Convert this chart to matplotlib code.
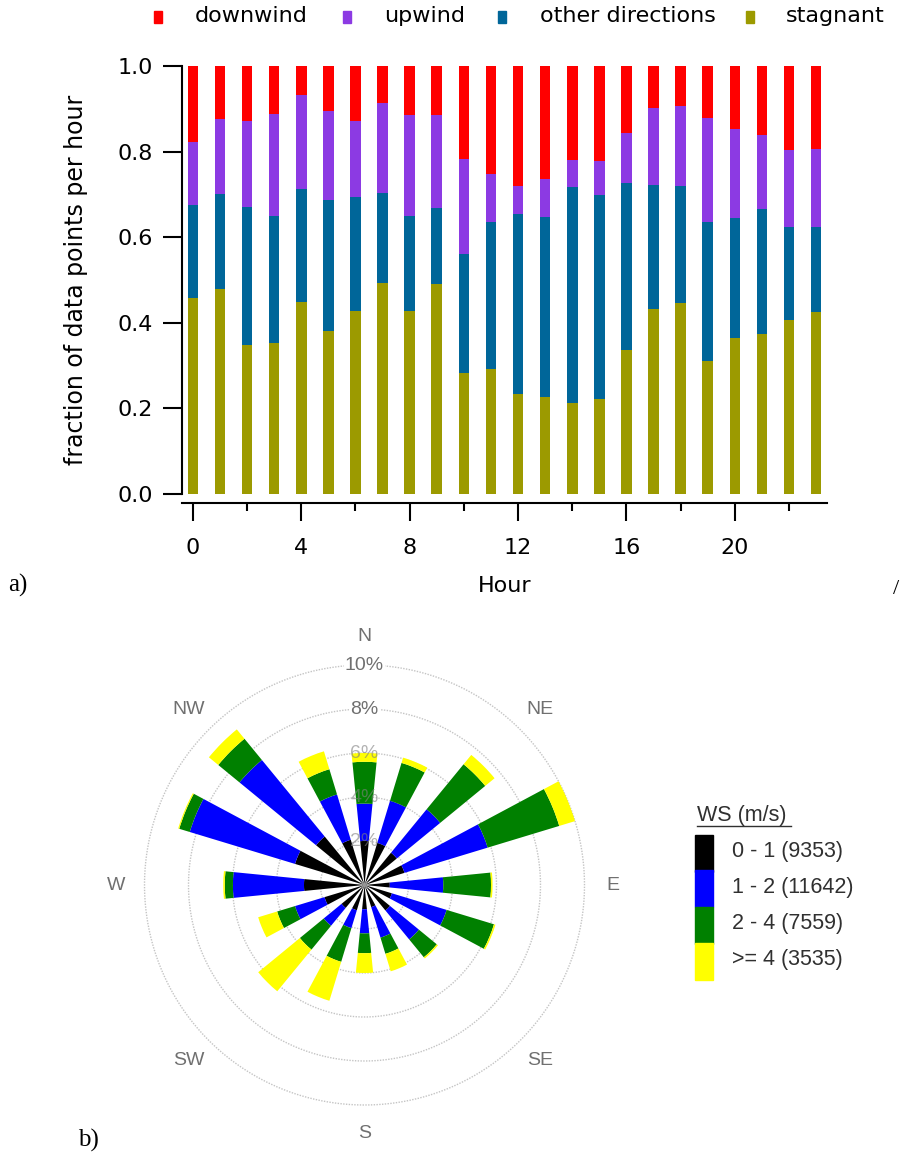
import numpy as np
import matplotlib
matplotlib.use('Agg')
import matplotlib.pyplot as plt
from matplotlib.patches import Rectangle
from matplotlib.lines import Line2D

# ---- panel a: fraction of data points per hour ----
hours = np.arange(24)
stagnant = [0.458, 0.479, 0.349, 0.353, 0.448, 0.380, 0.427, 0.493, 0.427, 0.490, 0.283, 0.292,
            0.234, 0.227, 0.213, 0.223, 0.336, 0.433, 0.447, 0.311, 0.365, 0.374, 0.406, 0.425]
other = [0.217, 0.221, 0.321, 0.296, 0.264, 0.308, 0.266, 0.211, 0.222, 0.178, 0.277, 0.344,
         0.420, 0.421, 0.504, 0.475, 0.390, 0.288, 0.272, 0.324, 0.279, 0.291, 0.217, 0.198]
upwind = [0.147, 0.177, 0.201, 0.238, 0.220, 0.206, 0.178, 0.209, 0.236, 0.217, 0.223, 0.112,
          0.065, 0.087, 0.063, 0.080, 0.117, 0.180, 0.188, 0.243, 0.208, 0.173, 0.181, 0.184]
downwind = [0.178, 0.123, 0.129, 0.113, 0.068, 0.106, 0.129, 0.087, 0.115, 0.115, 0.217, 0.252,
            0.281, 0.265, 0.220, 0.222, 0.157, 0.099, 0.093, 0.122, 0.148, 0.162, 0.196, 0.193]
cat_names = ['downwind', 'upwind', 'other directions', 'stagnant']
cat_colors = ['#ff0000', '#8c3ae3', '#006699', '#9c9a00']

# ---- panel b: wind rose (percent of data per direction and speed class) ----
directions = ['N', 'NNE', 'NE', 'ENE', 'E', 'ESE', 'SE', 'SSE',
              'S', 'SSW', 'SW', 'WSW', 'W', 'WNW', 'NW', 'NNW']
ws_0_1 = [2.0, 2.0, 1.9, 1.9, 1.15, 1.3, 1.5, 1.05, 1.1, 1.2, 1.35, 1.9, 2.75, 3.3, 2.85, 2.15]
ws_1_2 = [1.7, 2.0, 2.55, 3.95, 2.43, 2.6, 1.7, 1.45, 1.1, 0.85, 1.05, 1.4, 3.23, 5.0, 4.5, 2.15]
ws_2_4 = [1.9, 1.8, 2.65, 3.4, 2.17, 2.25, 1.05, 0.77, 0.9, 1.6, 1.4, 0.85, 0.37, 0.5, 1.25, 1.2]
ws_4 = [0.4, 0.25, 0.55, 0.8, 0.07, 0.07, 0.07, 0.83, 0.9, 1.85, 2.45, 0.9, 0.07, 0.05, 0.55, 0.85]
ws_labels = ['0 - 1 (9353)', '1 - 2 (11642)', '2 - 4 (7559)', '>= 4 (3535)']
ws_colors = ['#000000', '#0000ff', '#008000', '#ffff00']
ring_vals = [2, 4, 6, 8, 10]
compass = ['N', 'NE', 'E', 'SE', 'S', 'SW', 'W', 'NW']

W, H = 901, 1160
def fx(x):
    return x / W
def fy(y):
    return 1 - y / H

fig = plt.figure(figsize=(W / 100, H / 100), dpi=100)

# top chart
ax = fig.add_axes([fx(182), fy(494), (827 - 182) / W, (494 - 66) / H])
bottom = np.zeros(24)
for vals, col in zip([stagnant, other, upwind, downwind], cat_colors[::-1]):
    ax.bar(hours, vals, bottom=bottom, width=0.39, color=col, linewidth=0)
    bottom = bottom + np.array(vals)
ax.set_xlim(-0.4, 23.4)
ax.set_ylim(0, 1)
ax.spines['top'].set_visible(False)
ax.spines['right'].set_visible(False)
ax.spines['bottom'].set_position(('outward', 6.5))
for s in ['left', 'bottom']:
    ax.spines[s].set_linewidth(1.5)
ax.set_yticks(np.arange(0, 1.01, 0.2))
ax.set_yticklabels(['%.1f' % v for v in np.arange(0, 1.01, 0.2)])
ax.set_xticks(np.arange(0, 24, 4))
ax.set_xticks(np.arange(2, 24, 4), minor=True)
ax.tick_params(axis='y', length=14, width=1.5, pad=7, labelsize=16)
ax.tick_params(axis='x', which='major', length=13, width=1.5, pad=12, labelsize=16)
ax.tick_params(axis='x', which='minor', length=6, width=1.5)
ax.set_xlabel('Hour', fontsize=16, labelpad=13)
ax.set_ylabel('fraction of data points per hour', fontsize=17, labelpad=21)

# top legend
leg_marker_x = [158, 347, 502, 750]
leg_text_x = [195, 384, 540, 786]
for name, col, mx, tx in zip(cat_names, cat_colors, leg_marker_x, leg_text_x):
    fig.add_artist(Rectangle((fx(mx - 4), fy(23)), 8 / W, 12 / H, color=col,
                             transform=fig.transFigure))
    fig.text(fx(tx), fy(22), name, fontsize=16, va='baseline', ha='left')

fig.text(fx(8), fy(585), 'a)', fontsize=18, family='Liberation Serif', va='center')
fig.text(fx(78), fy(1140), 'b)', fontsize=18, family='Liberation Serif', va='center')
fig.text(fx(893), fy(590), '/', fontsize=16, family='Liberation Serif', va='center')

# wind rose
cx, cy, R = 364.5, 885, 220
pax = fig.add_axes([fx(cx - R), fy(cy + R), 2 * R / W, 2 * R / H], projection='polar')
pax.set_theta_zero_location('N')
pax.set_theta_direction(-1)
pax.set_ylim(0, 10)
pax.axis('off')
theta = np.deg2rad(np.arange(16) * 22.5)
base = np.zeros(16)
for vals, col in zip([ws_0_1, ws_1_2, ws_2_4, ws_4], ws_colors):
    pax.bar(theta, vals, bottom=base, width=np.deg2rad(11.25), color=col,
            linewidth=0, zorder=3)
    base = base + np.array(vals)
tt = np.linspace(0, 2 * np.pi, 400)
for r in ring_vals:
    pax.plot(tt, np.full_like(tt, r), color='#c4c4c4', lw=1.0,
             linestyle=(0, (1, 1)), zorder=1, clip_on=False)
for r in ring_vals:
    if r >= 8:
        pax.text(0, r, '%d%%' % r, ha='center', va='center', fontsize=14,
                 family='Liberation Sans', color='#707070', zorder=5, clip_on=False,
                 bbox=dict(facecolor='white', edgecolor='none', pad=1))
    else:
        pax.text(0, r, '%d%%' % r, ha='center', va='center', fontsize=14,
                 family='Liberation Sans', color='#808080', alpha=0.6, zorder=5)
for i, lab in enumerate(compass):
    pax.text(np.deg2rad(i * 45), 11.3, lab, ha='center', va='center', fontsize=14,
             family='Liberation Sans', color='#707070', clip_on=False)

# wind rose legend
fig.text(fx(697), fy(815), 'WS (m/s)', fontsize=15.5, family='Liberation Sans',
         color='#303030', va='center')
fig.add_artist(Line2D([fx(697), fx(791)], [fy(826), fy(826)], color='#303030', lw=1,
                      transform=fig.transFigure))
box_top = [835, 870, 907, 943]
for lab, col, yt in zip(ws_labels, ws_colors, box_top):
    fig.add_artist(Rectangle((fx(695), fy(yt + 37)), 18 / W, 37 / H, color=col,
                             transform=fig.transFigure))
    fig.text(fx(732), fy(yt + 17), lab, fontsize=15.5, family='Liberation Sans',
             color='#303030', va='center')

fig.savefig('out.png', dpi=100)
